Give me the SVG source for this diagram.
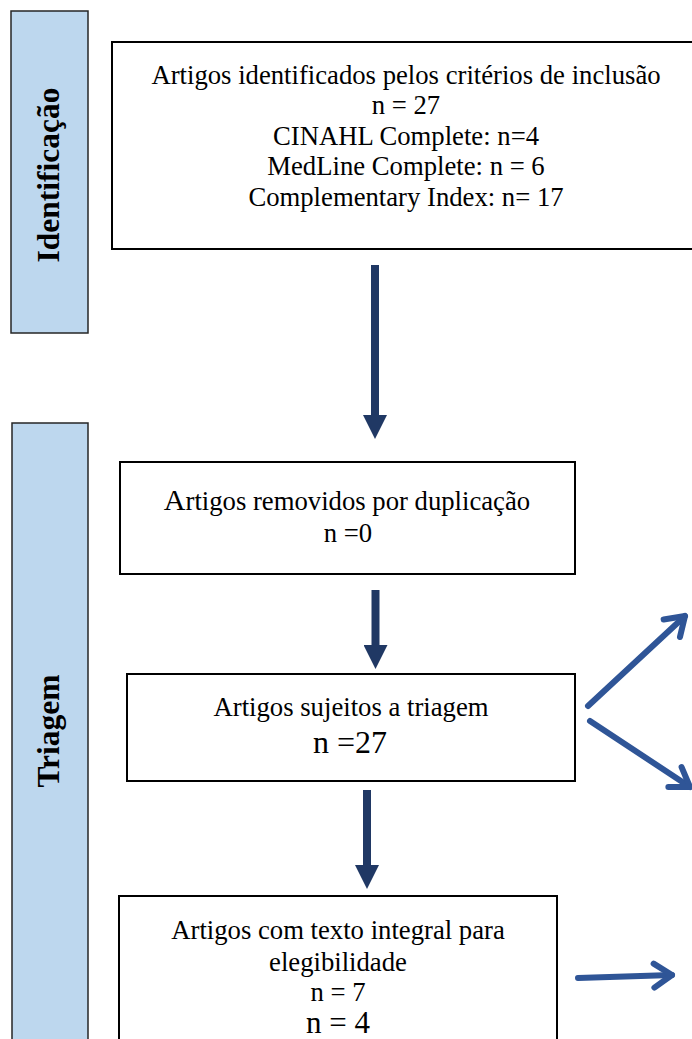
<svg xmlns="http://www.w3.org/2000/svg" width="692" height="1039" viewBox="0 0 692 1039">
<style>
.bar{fill:#BDD7EE;stroke:#262626;stroke-width:1.5}
.box{fill:#FFFFFF;stroke:#000000;stroke-width:2}
.t{font-family:"Liberation Serif","Times New Roman",serif;font-size:26.7px;fill:#000;text-anchor:middle}
.b{font-family:"Liberation Serif","Times New Roman",serif;font-weight:bold;font-size:31.5px;fill:#000;text-anchor:middle}
.solid{fill:none;stroke:#203864;stroke-width:8}
.open{fill:none;stroke:#2F5597;stroke-width:6;stroke-linecap:round}
</style>
<defs>
<marker id="tri" markerUnits="userSpaceOnUse" markerWidth="24" markerHeight="24" viewBox="0 0 24 24" refX="0" refY="12" orient="auto">
<path d="M0,0 L24,12 L0,24 Z" fill="#203864"/>
</marker>
<marker id="chev" markerUnits="userSpaceOnUse" markerWidth="34" markerHeight="34" viewBox="0 0 34 34" refX="27" refY="17" orient="auto" overflow="visible">
<path d="M9,5 L27,17 L9,29" fill="none" stroke="#2F5597" stroke-width="6" stroke-linecap="round" stroke-linejoin="round"/>
</marker>
</defs>
<g id="stage-identificacao">
<rect class="bar" x="11" y="11" width="77" height="322"/>
<text class="b" transform="translate(59,175) rotate(-90)">Identificação</text>
</g>
<g id="stage-triagem">
<rect class="bar" x="12" y="423" width="76" height="630"/>
<text class="b" transform="translate(59,731) rotate(-90)">Triagem</text>
</g>
<g id="node-identificados">
<rect class="box" x="112" y="42" width="600" height="207"/>
<text class="t" x="406" y="84">Artigos identificados pelos critérios de inclusão</text>
<text class="t" x="406" y="114">n = 27</text>
<text class="t" x="406" y="145">CINAHL Complete: n=4</text>
<text class="t" x="406" y="175">MedLine Complete: n = 6</text>
<text class="t" x="406" y="206">Complementary Index: n= 17</text>
</g>
<g id="node-removidos">
<rect class="box" x="120" y="462" width="455" height="112"/>
<text class="t" x="347" y="510"><tspan style="font-size:30px">A</tspan>rtigos removidos por duplicação</text>
<text class="t" x="348" y="542">n =0</text>
</g>
<g id="node-triagem">
<rect class="box" x="127" y="674" width="448" height="107"/>
<text class="t" x="351" y="716">Artigos sujeitos a triagem</text>
<text class="t" style="font-size:32px" x="350" y="753">n =27</text>
</g>
<g id="node-elegibilidade">
<rect class="box" x="119" y="896" width="438" height="160"/>
<text class="t" x="338" y="939">Artigos com texto integral para</text>
<text class="t" x="338" y="971">elegibilidade</text>
<text class="t" x="338" y="1001">n = 7</text>
<text class="t" style="font-size:31px" x="338" y="1033">n = 4</text>
</g>
<g id="connectors">
<path class="solid" d="M375,265 L375,415" marker-end="url(#tri)"/>
<path class="solid" d="M375.5,590 L375.5,645" marker-end="url(#tri)"/>
<path class="solid" d="M367,790 L367,865" marker-end="url(#tri)"/>
<path class="open" d="M588,706 L685,616" marker-end="url(#chev)"/>
<path class="open" d="M590,721 L690,787" marker-end="url(#chev)"/>
<path class="open" d="M578,978 L672,975" marker-end="url(#chev)"/>
</g>
</svg>
